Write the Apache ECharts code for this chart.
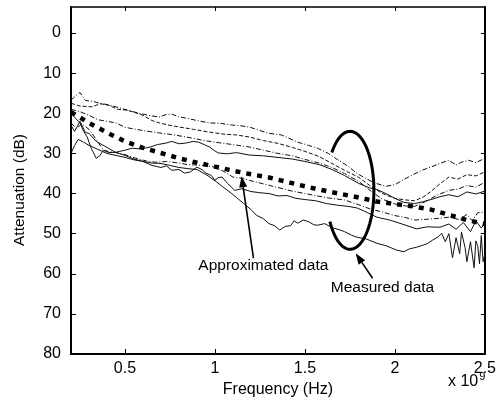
<!DOCTYPE html>
<html><head><meta charset="utf-8">
<script src="https://cdn.jsdelivr.net/npm/echarts@6/dist/echarts.min.js"></script>
<style>html,body{margin:0;padding:0;background:#fff}#c{width:499px;height:407px}</style>
</head><body><div id="c"></div>
<script>
// ---- tick labels ----
const xTicks = [0.5, 1, 1.5, 2, 2.5];
const yTicks = [0, 10, 20, 30, 40, 50, 60, 70, 80];

// ---- approximated data (frequency in GHz, attenuation in dB) ----
const approx = [[0.2,19.7],[0.3,22.4],[0.4,24.8],[0.5,27.0],[0.6,28.6],[0.7,29.9],[0.8,31.2],[0.9,32.3],[1.0,33.3],[1.1,34.3],[1.2,35.2],[1.3,36.0],[1.4,37.1],[1.5,38.2],[1.6,39.2],[1.7,40.1],[1.8,41.0],[1.9,42.0],[2.0,42.6],[2.1,43.2],[2.2,44.0],[2.3,45.3],[2.4,46.6],[2.5,47.6]];

// ---- measured data ----
const measured1 = [[0.2,16.7],[0.23,15.5],[0.25,14.8],[0.28,16.8],[0.32,17.0],[0.36,17.5],[0.41,17.9],[0.45,18.4],[0.52,19.3],[0.58,20.0],[0.64,20.6],[0.69,20.9],[0.73,20.3],[0.76,20.2],[0.80,20.9],[0.84,21.2],[0.9,21.8],[0.97,22.4],[1.03,22.5],[1.09,22.9],[1.14,23.1],[1.19,23.4],[1.25,24.3],[1.30,25.0],[1.37,25.4],[1.42,26.4],[1.46,27.2],[1.52,28.0],[1.57,28.7],[1.63,30.0],[1.68,31.5],[1.74,33.2],[1.79,35.0],[1.84,36.3],[1.89,37.4],[1.95,38.2],[2.0,37.8],[2.05,36.5],[2.1,35.3],[2.15,34.2],[2.2,33.4],[2.25,32.5],[2.30,31.7],[2.34,32.9],[2.37,32.2],[2.41,31.7],[2.45,32.3],[2.5,31.2]];
const measured2 = [[0.2,17.5],[0.25,18.2],[0.32,18.4],[0.36,17.6],[0.41,18.0],[0.46,19.0],[0.51,19.2],[0.56,19.9],[0.6,20.5],[0.65,21.8],[0.69,22.4],[0.75,23.0],[0.8,23.4],[0.88,24.0],[0.97,24.7],[1.05,25.2],[1.12,25.4],[1.19,25.9],[1.27,26.8],[1.35,27.5],[1.43,28.5],[1.5,29.5],[1.58,30.8],[1.65,32.5],[1.72,34.2],[1.8,36.0],[1.86,38.0],[1.93,40.0],[2.0,41.2],[2.06,41.6],[2.11,41.8],[2.16,40.8],[2.2,39.5],[2.25,37.6],[2.30,35.9],[2.35,36.4],[2.4,35.3],[2.45,35.6],[2.5,34.6]];
const measured3 = [[0.2,19.0],[0.25,19.6],[0.3,20.5],[0.35,21.6],[0.4,22.0],[0.45,22.4],[0.5,23.5],[0.6,24.3],[0.69,24.9],[0.76,25.3],[0.84,25.9],[0.92,26.6],[1.0,27.2],[1.1,27.8],[1.19,28.4],[1.27,29.2],[1.35,30.0],[1.43,30.6],[1.5,31.5],[1.58,32.4],[1.65,33.5],[1.72,35.0],[1.8,37.0],[1.87,39.5],[1.93,41.4],[2.0,42.6],[2.06,43.1],[2.11,43.2],[2.17,42.0],[2.23,40.5],[2.3,39.2],[2.35,38.9],[2.4,38.0],[2.45,38.4],[2.5,37.2]];
const measured4 = [[0.2,20.0],[0.22,21.0],[0.25,22.4],[0.27,24.5],[0.29,25.9],[0.31,28.5],[0.34,31.2],[0.36,30.6],[0.38,29.2],[0.41,29.8],[0.45,29.7],[0.5,29.2],[0.54,28.7],[0.59,28.9],[0.64,28.4],[0.68,27.8],[0.73,27.4],[0.76,27.0],[0.8,27.6],[0.84,27.4],[0.88,27.0],[0.91,27.2],[0.94,27.8],[0.97,28.4],[1.0,29.4],[1.02,29.9],[1.07,30.1],[1.12,29.8],[1.19,30.4],[1.27,30.6],[1.35,31.0],[1.43,31.4],[1.5,32.0],[1.58,32.8],[1.65,34.0],[1.72,35.5],[1.8,37.5],[1.86,38.6],[1.9,39.0],[1.95,40.0],[2.0,41.2],[2.05,42.2],[2.11,42.5],[2.16,42.0],[2.2,41.5],[2.25,40.8],[2.3,40.3],[2.35,40.8],[2.4,39.6],[2.45,40.1],[2.5,39.4]];
const measured5 = [[0.2,22.4],[0.23,23.8],[0.26,22.6],[0.3,24.0],[0.34,26.5],[0.38,29.2],[0.42,29.6],[0.47,29.9],[0.52,30.6],[0.56,31.2],[0.62,31.9],[0.67,32.2],[0.73,32.0],[0.8,32.4],[0.85,32.8],[0.9,32.9],[0.95,33.1],[1.0,33.4],[1.05,34.5],[1.1,35.9],[1.15,36.2],[1.19,36.7],[1.27,37.6],[1.35,38.5],[1.43,39.4],[1.5,40.0],[1.57,40.6],[1.63,41.1],[1.72,41.6],[1.8,42.8],[1.86,43.8],[1.93,44.6],[2.0,45.5],[2.06,46.0],[2.11,46.6],[2.18,46.4],[2.24,46.2],[2.3,45.9],[2.36,46.5],[2.4,45.2],[2.43,46.8],[2.46,44.8],[2.5,44.6]];
const measured6 = [[0.2,23.0],[0.22,24.5],[0.25,22.0],[0.28,24.8],[0.3,25.0],[0.34,27.0],[0.4,28.5],[0.45,29.8],[0.5,30.5],[0.55,31.4],[0.6,32.0],[0.65,33.0],[0.7,33.5],[0.73,33.1],[0.76,34.2],[0.8,34.0],[0.83,34.9],[0.86,34.7],[0.9,33.4],[0.93,34.1],[0.95,34.9],[0.98,35.5],[1.0,36.7],[1.02,36.0],[1.04,35.9],[1.07,37.5],[1.11,39.2],[1.15,38.8],[1.2,39.5],[1.25,39.8],[1.3,40.0],[1.35,40.6],[1.4,40.5],[1.45,41.2],[1.5,41.5],[1.56,41.8],[1.62,42.5],[1.68,42.9],[1.74,43.2],[1.79,43.6],[1.84,44.6],[1.90,45.9],[1.97,46.6],[2.04,47.6],[2.12,48.8],[2.18,48.3],[2.25,48.4],[2.3,47.6],[2.34,48.9],[2.38,47.2],[2.42,49.5],[2.45,46.8],[2.48,48.6],[2.5,47.4]];
const measured7 = [[0.2,30.0],[0.22,28.0],[0.24,26.5],[0.27,27.2],[0.3,28.0],[0.35,29.0],[0.4,30.0],[0.45,30.5],[0.5,31.0],[0.55,31.6],[0.6,32.0],[0.65,32.4],[0.7,32.5],[0.75,33.0],[0.8,33.5],[0.85,33.8],[0.9,34.0],[0.955,35.4],[1.0,36.8],[1.04,38.2],[1.09,39.9],[1.12,41.0],[1.16,42.5],[1.2,44.0],[1.23,45.4],[1.27,46.3],[1.3,47.5],[1.33,48.0],[1.36,49.1],[1.39,48.2],[1.42,48.0],[1.44,46.8],[1.46,47.4],[1.49,46.6],[1.52,47.0],[1.55,47.8],[1.57,47.9],[1.61,47.5],[1.65,48.5],[1.69,49.0],[1.72,49.5],[1.76,50.4],[1.79,50.9],[1.84,51.3],[1.9,52.4],[1.95,53.0],[2.01,54.1],[2.05,54.5],[2.08,53.8],[2.12,53.4],[2.16,52.8],[2.18,52.5],[2.21,51.6],[2.24,50.8],[2.26,49.9],[2.28,52.0],[2.3,50.0],[2.32,56.0],[2.34,51.0],[2.36,55.0],[2.37,49.6],[2.39,53.5],[2.4,57.0],[2.42,52.0],[2.44,58.5],[2.45,51.8],[2.46,53.0],[2.47,57.5],[2.48,50.5],[2.49,57.0],[2.5,55.0]];

const measuredSets = [measured1, measured2, measured3, measured4, measured5, measured6, measured7];
const measuredDash = [[5,2,1,2],[4,2],[5,2,1,2],'solid',[5,2,1,2],'solid','solid'];

// ---- annotations (data coordinates) ----
const annotApprox = {text:'Approximated data', at:[1.269,57.9], tail:[1.214,56.1], tip:[1.148,35.7]};
const annotMeasured = {text:'Measured data', at:[1.931,63.6], tail:[1.876,61.1], tip:[1.782,54.9]};
const ellipseSpec = {center:[1.751,39.2], rx:0.1323, ry:14.7, from:-140, to:150};

const FONT = '"Liberation Sans", Arial, Helvetica, sans-serif';
const chart = echarts.init(document.getElementById('c'), null, {renderer:'canvas'});

const series = measuredSets.map((d,i)=>({
  type:'line', data:d, symbol:'none', xAxisIndex:0, yAxisIndex:0, z:2,
  lineStyle:{color:'#111', width:1, type:measuredDash[i]}
}));
series.push({type:'line', data:approx, symbol:'none', xAxisIndex:0, yAxisIndex:0, z:5,
  lineStyle:{color:'#000', width:4.5, type:[5,6], cap:'butt'}});

chart.setOption({
  animation:false,
  backgroundColor:'#fff',
  grid:{left:71, right:14, top:7, bottom:53, show:false},
  xAxis:[{
    type:'value', min:0.2, max:2.5, position:'bottom',
    axisLine:{onZero:false, lineStyle:{color:'#000', width:2}},
    axisTick:{inside:true, length:5, customValues:xTicks, lineStyle:{color:'#000', width:1}},
    axisLabel:{customValues:xTicks, color:'#000', fontSize:16, fontFamily:FONT, margin:7},
    splitLine:{show:false},
    name:'Frequency (Hz)', nameLocation:'middle', nameGap:23,
    nameTextStyle:{color:'#000', fontSize:16, fontFamily:FONT}
  },{
    type:'value', min:0.2, max:2.5, position:'top',
    axisLine:{onZero:false, lineStyle:{color:'#000', width:1.5}},
    axisTick:{inside:true, length:4, customValues:xTicks, lineStyle:{color:'#000'}},
    axisLabel:{show:false}, splitLine:{show:false}
  }],
  yAxis:[{
    type:'value', min:-6.5, max:80, inverse:true, position:'left',
    axisLine:{onZero:false, lineStyle:{color:'#000', width:2}},
    axisTick:{inside:true, length:5, customValues:yTicks, lineStyle:{color:'#000', width:1}},
    axisLabel:{customValues:yTicks, color:'#000', fontSize:16, fontFamily:FONT, margin:10},
    splitLine:{show:false}
  },{
    type:'value', min:-6.5, max:80, inverse:true, position:'right',
    axisLine:{onZero:false, lineStyle:{color:'#000', width:2}},
    axisTick:{inside:true, length:4, customValues:yTicks, lineStyle:{color:'#000'}},
    axisLabel:{show:false}, splitLine:{show:false}
  }],
  series: series
});

function px(p){ return chart.convertToPixel({xAxisIndex:0, yAxisIndex:0}, p); }
function arrow(a){
  const t = px(a.tail), h = px(a.tip);
  const dx = h[0]-t[0], dy = h[1]-t[1], L = Math.hypot(dx,dy), ux = dx/L, uy = dy/L;
  const hl = 11, hw = 4;
  const bx = h[0]-ux*hl, by = h[1]-uy*hl;
  return [
    {type:'line', shape:{x1:t[0], y1:t[1], x2:bx, y2:by}, style:{stroke:'#000', lineWidth:1.6}, z:10},
    {type:'polygon', shape:{points:[[h[0],h[1]],[bx-uy*hw, by+ux*hw],[bx+uy*hw, by-ux*hw]]}, style:{fill:'#000'}, z:10}
  ];
}
function label(a){
  const p = px(a.at);
  return {type:'text', x:p[0], y:p[1], z:10, style:{text:a.text, fill:'#000', font:'15.5px '+FONT, align:'center', verticalAlign:'middle'}};
}
const c = px(ellipseSpec.center);
const c2 = px([ellipseSpec.center[0]+ellipseSpec.rx, ellipseSpec.center[1]+ellipseSpec.ry]);
const rxp = c2[0]-c[0], ryp = c2[1]-c[1];
const pts = [];
for (let a = ellipseSpec.from; a <= ellipseSpec.to; a += 3) {
  const r = a*Math.PI/180;
  pts.push([c[0]+rxp*Math.cos(r), c[1]+ryp*Math.sin(r)]);
}
const graphics = [
  {type:'polyline', shape:{points:pts}, style:{stroke:'#000', lineWidth:3, fill:null}, z:10},
  ...arrow(annotApprox), ...arrow(annotMeasured),
  label(annotApprox), label(annotMeasured),
  {type:'text', x:20, y:190, rotation:Math.PI/2, z:10,
    style:{text:'Attenuation (dB)', fill:'#000', font:'15.5px '+FONT, align:'center', verticalAlign:'middle'}},
  {type:'text', left:448, top:371, z:10, style:{text:'x 10{s|9}', fill:'#000', font:'16px '+FONT,
    rich:{s:{fontSize:11, fontFamily:FONT, verticalAlign:'top', padding:[0,0,10,1]}}}}
];
chart.setOption({graphic:graphics});
</script>
</body></html>
